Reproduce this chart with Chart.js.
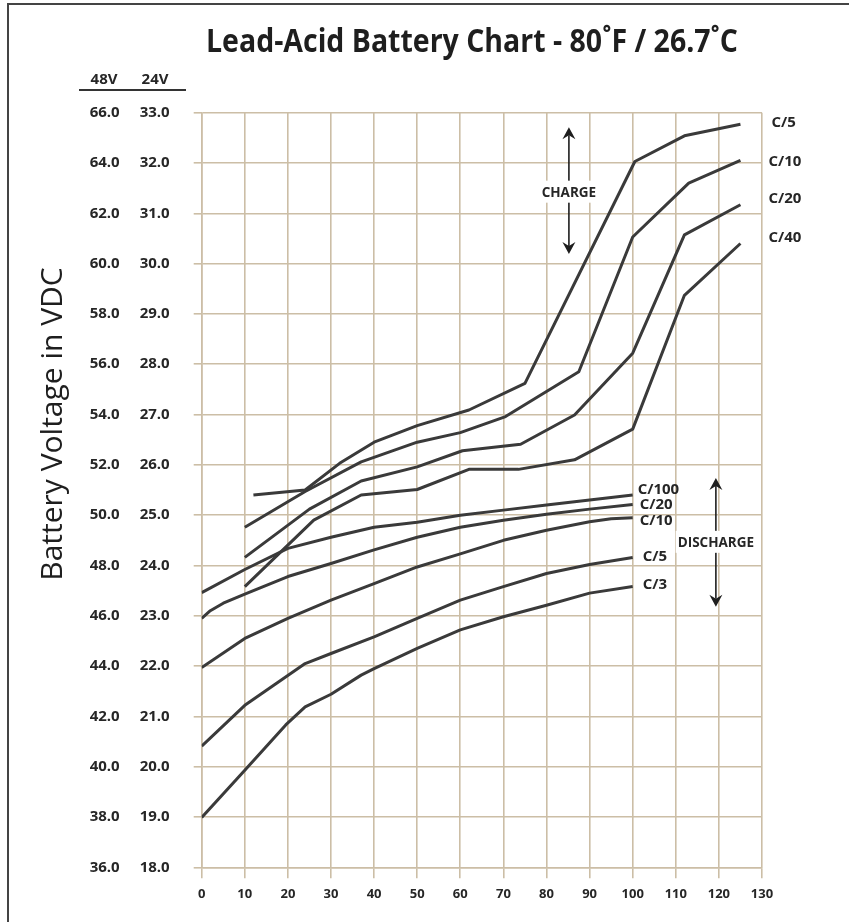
<!DOCTYPE html>
<html>
<head>
<meta charset="utf-8">
<script src="https://cdn.jsdelivr.net/npm/chart.js@4"></script>
<style>
  html, body { margin: 0; padding: 0; background: #fff; }
  #caixa { position: relative; width: 849px; height: 922px; }
</style>
</head>
<body>
<div id="caixa"><canvas id="grafico" width="849" height="922"></canvas></div>
<script>
// textos
const tituloGrafico = 'Lead-Acid Battery Chart - 80˚F / 26.7˚C';
const tituloEixoY = 'Battery Voltage in VDC';
const cabecalhos = ['48V', '24V'];

// eixos
const eixoX = [0, 130, 10];
const eixo24 = [18, 33, 1];
const eixo48 = [36, 66, 2];

// curvas de carga (x = % , y = volts em 24V)
const cargaC5X  = [12, 24, 32, 40, 50, 62, 75, 100.5, 112, 125];
const cargaC5Y  = [25.40, 25.50, 26.03, 26.45, 26.78, 27.09, 27.62, 32.03, 32.54, 32.77];
const cargaC10X = [10, 24, 37, 50, 60, 70.5, 87.5, 100, 113, 125];
const cargaC10Y = [24.76, 25.47, 26.06, 26.45, 26.64, 26.96, 27.85, 30.53, 31.60, 32.05];
const cargaC20X = [10, 25, 37, 50, 60.5, 74, 86.5, 100, 112, 125];
const cargaC20Y = [24.16, 25.12, 25.68, 25.96, 26.28, 26.41, 26.99, 28.22, 30.57, 31.17];
const cargaC40X = [10, 26, 37, 50, 62, 73.5, 86.5, 100, 112, 125];
const cargaC40Y = [23.58, 24.90, 25.40, 25.51, 25.91, 25.91, 26.10, 26.71, 29.37, 30.40];

// curvas de descarga
const descC100X = [0, 10, 20, 30, 40, 50, 60, 70, 80, 90, 100];
const descC100Y = [23.46, 23.92, 24.34, 24.56, 24.76, 24.86, 25.00, 25.10, 25.20, 25.30, 25.40];
const descC20X  = [0, 2, 5, 10, 20, 30, 40, 50, 60, 70, 80, 90, 100];
const descC20Y  = [22.95, 23.10, 23.25, 23.43, 23.78, 24.04, 24.31, 24.56, 24.76, 24.90, 25.02, 25.12, 25.21];
const descC10X  = [0, 10, 20, 30, 40, 50, 60, 70, 80, 90, 95, 100];
const descC10Y  = [21.97, 22.55, 22.95, 23.31, 23.64, 23.97, 24.23, 24.50, 24.70, 24.87, 24.93, 24.95];
const descC5X   = [0, 10, 24, 30, 40, 50, 60, 70, 80, 90, 100];
const descC5Y   = [20.41, 21.22, 22.05, 22.25, 22.58, 22.95, 23.31, 23.58, 23.84, 24.02, 24.16];
const descC3X   = [0, 10, 19.5, 24, 30, 37, 40, 50, 60, 70, 80, 90, 100];
const descC3Y   = [18.99, 19.93, 20.83, 21.19, 21.44, 21.82, 21.95, 22.35, 22.72, 22.98, 23.21, 23.45, 23.58];

// setas CHARGE / DISCHARGE (x, y inicio, y fim, y do texto)
const setaCarga = [85.2, 32.71, 30.19, 31.43];
const setaDescarga = [119.3, 25.74, 23.18, 24.47];

const corLinha = '#3a3a3a';
const corGrade = 'rgb(204,190,166)';
const corTexto = '#262626';
const fonte = '"Open Sans", "DejaVu Sans", sans-serif';

function pontos(xs, ys) {
    return xs.map((x, i) => ({ x: x, y: ys[i] }));
}

function curva(rotulo, xs, ys, dx, dy) {
    return {
        label: rotulo,
        data: pontos(xs, ys),
        borderColor: corLinha,
        borderWidth: 3,
        pointRadius: 0,
        tension: 0,
        borderJoinStyle: 'round',
        borderCapStyle: 'butt',
        fill: false,
        rotuloDx: dx,
        rotuloDy: dy
    };
}

const datasets = [
    curva('C/5', cargaC5X, cargaC5Y, 31, -2),
    curva('C/10', cargaC10X, cargaC10Y, 28, 1),
    curva('C/20', cargaC20X, cargaC20Y, 28, -6),
    curva('C/40', cargaC40X, cargaC40Y, 28, -6),
    curva('C/100', descC100X, descC100Y, 5, -5),
    curva('C/20', descC20X, descC20Y, 7, 0),
    curva('C/10', descC10X, descC10Y, 7, 3),
    curva('C/5', descC5X, descC5Y, 10, -1),
    curva('C/3', descC3X, descC3Y, 10, -2)
];

function desenhaSeta(ctx, x, y1, y2, yt, texto) {
    ctx.save();
    ctx.strokeStyle = '#1e1e1e';
    ctx.fillStyle = '#1e1e1e';
    ctx.lineWidth = 1.6;
    ctx.beginPath();
    ctx.moveTo(x, y1 + 8);
    ctx.lineTo(x, y2 - 8);
    ctx.stroke();
    [[y1, 1], [y2, -1]].forEach(([yp, s]) => {
        ctx.beginPath();
        ctx.moveTo(x, yp);
        ctx.lineTo(x - 6.5, yp + 12 * s);
        ctx.lineTo(x, yp + 8 * s);
        ctx.lineTo(x + 6.5, yp + 12 * s);
        ctx.closePath();
        ctx.fill();
    });
    ctx.font = 'bold 13.5px ' + fonte;
    const w = ctx.measureText(texto).width;
    ctx.fillStyle = '#fff';
    ctx.fillRect(x - w / 2 - 2, yt - 11, w + 4, 22);
    ctx.fillStyle = corTexto;
    ctx.textAlign = 'center';
    ctx.textBaseline = 'middle';
    ctx.fillText(texto, x, yt + 1);
    ctx.restore();
}

const pluginTextos = {
    id: 'textos',
    beforeDraw(chart) {
        const ctx = chart.ctx;
        ctx.save();
        // moldura
        ctx.strokeStyle = '#444';
        ctx.lineWidth = 2;
        ctx.beginPath();
        ctx.moveTo(8, 922);
        ctx.lineTo(8, 4);
        ctx.lineTo(849, 4);
        ctx.stroke();
        // titulo
        ctx.fillStyle = '#1e1e1e';
        ctx.font = 'bold 33px ' + fonte;
        ctx.textAlign = 'center';
        ctx.textBaseline = 'alphabetic';
        const larg = ctx.measureText(tituloGrafico).width;
        const esc = Math.min(1, 532 / larg);
        ctx.save();
        ctx.translate(472, 52);
        ctx.scale(esc, 1);
        ctx.fillText(tituloGrafico, 0, 0);
        ctx.restore();
        // cabecalhos 48V / 24V
        ctx.font = 'bold 15px ' + fonte;
        ctx.fillStyle = corTexto;
        ctx.fillText(cabecalhos[0], 104, 84);
        ctx.fillText(cabecalhos[1], 155, 84);
        ctx.strokeStyle = '#333';
        ctx.lineWidth = 2;
        ctx.beginPath();
        ctx.moveTo(79, 90);
        ctx.lineTo(186, 90);
        ctx.stroke();
        // titulo do eixo Y
        ctx.save();
        ctx.translate(53, 424);
        ctx.rotate(-Math.PI / 2);
        ctx.font = '30px ' + fonte;
        ctx.textBaseline = 'middle';
        ctx.fillStyle = '#1e1e1e';
        ctx.fillText(tituloEixoY, 0, 0);
        ctx.restore();
        ctx.restore();
    },
    afterDatasetsDraw(chart) {
        const ctx = chart.ctx;
        ctx.save();
        ctx.font = 'bold 15px ' + fonte;
        ctx.fillStyle = corTexto;
        ctx.textAlign = 'left';
        ctx.textBaseline = 'middle';
        chart.data.datasets.forEach((ds, i) => {
            const meta = chart.getDatasetMeta(i);
            const ultimo = meta.data[meta.data.length - 1];
            ctx.fillText(ds.label, ultimo.x + ds.rotuloDx, ultimo.y + ds.rotuloDy);
        });
        ctx.restore();
        const sx = chart.scales.x, sy = chart.scales.y;
        desenhaSeta(ctx, sx.getPixelForValue(setaCarga[0]), sy.getPixelForValue(setaCarga[1]),
            sy.getPixelForValue(setaCarga[2]), sy.getPixelForValue(setaCarga[3]), 'CHARGE');
        desenhaSeta(ctx, sx.getPixelForValue(setaDescarga[0]), sy.getPixelForValue(setaDescarga[1]),
            sy.getPixelForValue(setaDescarga[2]), sy.getPixelForValue(setaDescarga[3]), 'DISCHARGE');
    }
};

const fonteTick = (tam) => ({ family: fonte, size: tam, weight: 'bold' });

const config = {
    type: 'line',
    data: { datasets: datasets },
    options: {
        responsive: false,
        animation: false,
        devicePixelRatio: 1,
        layout: { padding: { top: 112.7, right: 87, bottom: 0, left: 0 } },
        plugins: { legend: { display: false }, tooltip: { enabled: false }, title: { display: false } },
        scales: {
            x: {
                type: 'linear',
                min: eixoX[0], max: eixoX[1],
                ticks: { stepSize: eixoX[2], color: corTexto, font: fonteTick(13), padding: 8, maxRotation: 0, autoSkip: false },
                grid: { color: corGrade, lineWidth: 1.6, tickLength: 11 },
                border: { color: corGrade, width: 1.6 },
                afterFit: (s) => { s.height = 922 - 867.3; }
            },
            y: {
                type: 'linear',
                position: 'left',
                weight: 0,
                min: eixo24[0], max: eixo24[1],
                ticks: { stepSize: eixo24[2], color: corTexto, font: fonteTick(15), padding: 24, callback: (v) => v.toFixed(1) },
                grid: { color: corGrade, lineWidth: 1.6, tickLength: 8 },
                border: { color: corGrade, width: 1.6 },
                afterFit: (s) => { s.width = 64; }
            },
            y48: {
                type: 'linear',
                position: 'left',
                weight: 1,
                min: eixo48[0], max: eixo48[1],
                ticks: { stepSize: eixo48[2], color: corTexto, font: fonteTick(15), padding: 18, callback: (v) => v.toFixed(1) },
                grid: { display: false, drawTicks: false },
                border: { display: false },
                afterFit: (s) => { s.width = 137.7; }
            }
        }
    },
    plugins: [pluginTextos]
};

const ctx = document.getElementById('grafico').getContext('2d');
const meuGrafico = new Chart(ctx, config);
</script>
</body>
</html>
